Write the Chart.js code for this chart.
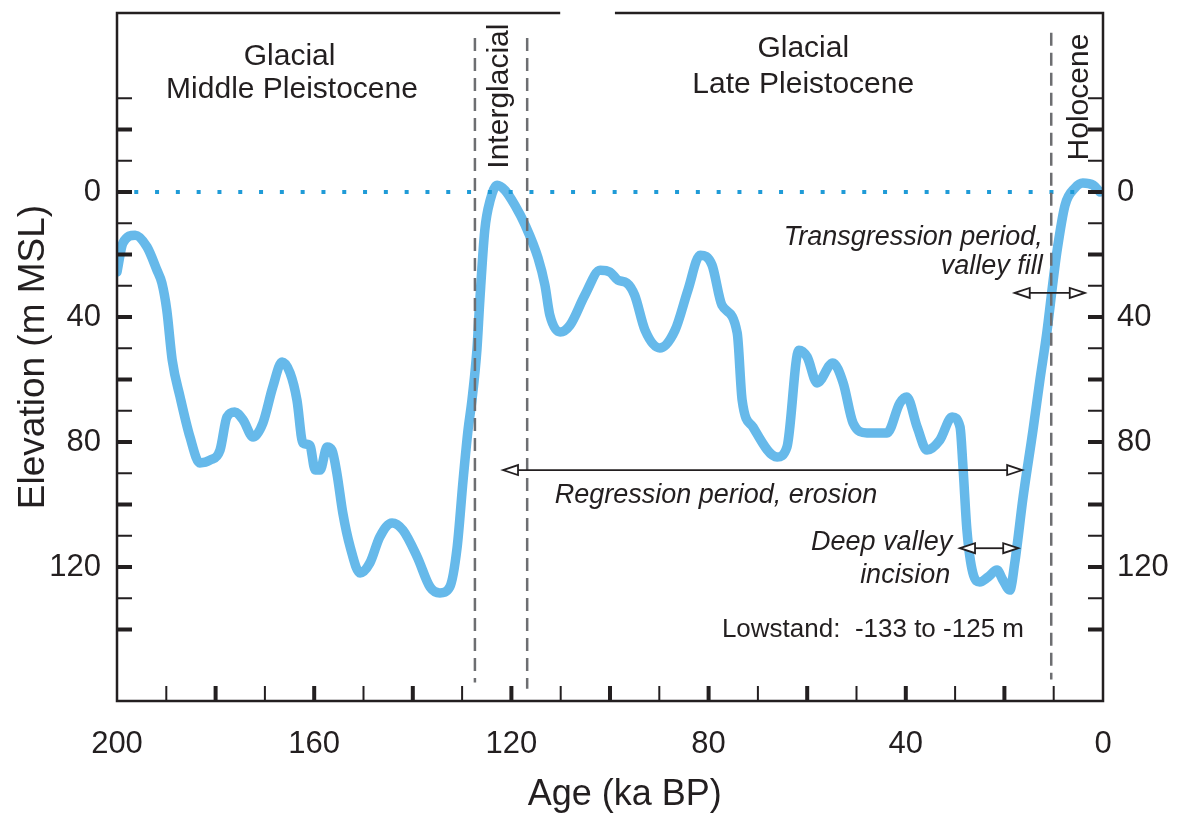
<!DOCTYPE html>
<html>
<head>
<meta charset="utf-8">
<script src="https://cdn.jsdelivr.net/npm/chart.js@4"></script>
<style>
  body { margin: 0; background: #fff; }
  canvas { display: block; }
</style>
</head>
<body>
<canvas id="seaLevel" width="1180" height="814"></canvas>
<script>
// sea level curve (age in ka BP, depth below MSL in m)
var ages = [200, 198.8, 196.3, 193.9, 191.9, 190.9, 189.9, 188.8, 187.2, 185.2, 183.2, 181.1, 179.1, 177.7, 176.1,
  174.4, 172.4, 170.4, 168.4, 166.5, 164.9, 163.5, 162.3, 160.9, 159.8, 158.8, 157.4, 156.4, 155.4, 154.2, 152.7,
  150.7, 148.7, 146.7, 144.2, 142, 139.1, 136.5, 134.5, 132.5, 131, 129.8, 128.8, 128, 127, 126.4, 125.4, 124.3,
  122.9, 121.3, 119.3, 117.2, 114.6, 113.2, 112.2, 110.1, 108.1, 105.1, 102, 100, 98.4, 96.6, 95, 92.9, 89.9, 86.8,
  84.2, 81.7, 79.3, 77.3, 74.2, 73.2, 71, 66.1, 64.1, 61.7, 60, 58, 54.8, 52.7, 50.7, 47.9, 43.8, 41.2, 39.8, 37.7,
  35.7, 33.1, 30.6, 29, 28.4, 27.6, 26.4, 25, 23.3, 21.5, 20.3, 18.9, 17.9, 16.2, 14.2, 12.8, 11.4, 10.1, 9.3, 7.7,
  5.7, 4.1, 2, 0.6];
var elevations = [25.6, 16.3, 13.8, 17.6, 25, 29.1, 37.8, 53.8, 65.6, 78.4, 86.7, 85.8, 82.6, 72, 70.4,
  73, 78.4, 73.9, 62.4, 54.4, 57.9, 66.6, 80.3, 81, 89, 89, 81.6, 82.6, 90, 102.7, 113.6,
  121.9, 118.7, 110.4, 105.9, 108.2, 116.8, 126.4, 128.3, 126.4, 113.6, 92.2, 76.2, 66.6, 50.6, 34.6, 12.2, 2.6,
  -2.2, -0.6, 4.2, 10.6, 21.1, 29.8, 39.4, 44.8, 42.6, 33, 25, 25.6, 28.2, 29.1, 33, 44.2, 49.9, 44.2,
  31.4, 20.2, 23.4, 36.2, 45.1, 66.6, 75.2, 84.8, 81.6, 50.6, 52.8, 61.1, 54.7, 61.1, 73.9, 77.1, 77.1, 67.5, 65.6, 75.2,
  82.6, 79.4, 72, 75.2, 88, 108.2, 121.9, 124.8, 123.2, 121, 124.2, 127.4, 118.7, 97.6, 76.2, 60.2, 45.1, 28.2, 18.6, 4.2,
  -1.3, -2.9, -2.2, 0];

var ageLabels = [200, 160, 120, 80, 40, 0];
var elevLabels = [0, 40, 80, 120];
var ageTickMarks = [10, 20, 30, 40, 50, 60, 70, 80, 90, 100, 110, 120, 130, 140, 150, 160, 170, 180, 190];
var elevTickMarks = [-30, -20, -10, 0, 10, 20, 30, 40, 50, 60, 70, 80, 90, 100, 110, 120, 130, 140];
var boundaryAges = [127.4, 116.8, 10.5];

var INK = '#231f20';
Chart.defaults.font.family = '"Liberation Sans", Arial, sans-serif';
Chart.defaults.color = INK;

var curve = ages.map(function (a, i) { return {x: a, y: elevations[i]}; });

var datasets = [];
// dashed period boundaries
var boundaryEnds = [[-49.3, 157], [-49.3, 159], [-51, 156]];
boundaryAges.forEach(function (a, i) {
  datasets.push({
    data: [{x: a, y: boundaryEnds[i][0]}, {x: a, y: boundaryEnds[i][1]}],
    borderColor: '#6d6e71', borderWidth: 2.5, borderDash: [13, 7], pointRadius: 0
  });
});
datasets.push({
  data: [{x: 196.5, y: 0}, {x: 1, y: 0}],
  borderColor: '#1f9bd7', borderWidth: 4, borderDash: [4, 16.8], pointRadius: 0
});
datasets.push({
  data: curve,
  borderColor: '#66b9ea', borderWidth: 9.5, pointRadius: 0,
  cubicInterpolationMode: 'monotone', borderCapStyle: 'round', borderJoinStyle: 'round'
});

function openHead(ctx, tx, ty, dir) {
  ctx.beginPath();
  ctx.moveTo(tx, ty);
  ctx.lineTo(tx + dir * 15, ty - 5);
  ctx.lineTo(tx + dir * 15, ty + 5);
  ctx.closePath();
  ctx.fillStyle = '#fff';
  ctx.fill();
  ctx.stroke();
}

function arrow(ctx, x, y, a1, a2, e) {
  var x1 = x.getPixelForValue(a1), x2 = x.getPixelForValue(a2), py = y.getPixelForValue(e);
  ctx.strokeStyle = INK;
  ctx.lineWidth = 1.8;
  ctx.beginPath();
  ctx.moveTo(x1 + 15, py);
  ctx.lineTo(x2 - 15, py);
  ctx.stroke();
  openHead(ctx, x1, py, 1);
  openHead(ctx, x2, py, -1);
}

function text(ctx, x, y, str, a, e, align, font) {
  ctx.font = font;
  ctx.textAlign = align;
  ctx.textBaseline = 'middle';
  ctx.fillStyle = INK;
  ctx.fillText(str, x.getPixelForValue(a), y.getPixelForValue(e));
}

function vtext(ctx, x, y, str, a, e, font) {
  ctx.save();
  ctx.translate(x.getPixelForValue(a), y.getPixelForValue(e));
  ctx.rotate(-Math.PI / 2);
  ctx.font = font;
  ctx.textAlign = 'center';
  ctx.textBaseline = 'middle';
  ctx.fillStyle = INK;
  ctx.fillText(str, 0, 0);
  ctx.restore();
}

var overlay = {
  id: 'overlay',
  afterDraw: function (chart) {
    var ctx = chart.ctx, a = chart.chartArea, x = chart.scales.x, y = chart.scales.y;
    ctx.save();
    ctx.strokeStyle = INK;
    ctx.lineCap = 'butt';

    // inward tick marks
    elevTickMarks.forEach(function (v) {
      var py = y.getPixelForValue(v);
      ctx.lineWidth = v % 20 === 0 ? 4 : 2;
      ctx.beginPath();
      ctx.moveTo(a.left, py); ctx.lineTo(a.left + 15, py);
      ctx.moveTo(a.right, py); ctx.lineTo(a.right - 15, py);
      ctx.stroke();
    });
    ageTickMarks.forEach(function (v) {
      var px = x.getPixelForValue(v);
      ctx.lineWidth = v % 20 === 0 ? 4 : 2;
      ctx.beginPath();
      ctx.moveTo(px, a.bottom); ctx.lineTo(px, a.bottom - 15);
      ctx.stroke();
    });

    // frame (top edge has a small gap in the original)
    ctx.lineWidth = 2.5;
    ctx.beginPath();
    ctx.moveTo(x.getPixelForValue(110.1), a.top);
    ctx.lineTo(a.left, a.top);
    ctx.lineTo(a.left, a.bottom);
    ctx.lineTo(a.right, a.bottom);
    ctx.lineTo(a.right, a.top);
    ctx.lineTo(x.getPixelForValue(99), a.top);
    ctx.stroke();

    var big = '30px "Liberation Sans", Arial, sans-serif';
    var ital = 'italic 27px "Liberation Sans", Arial, sans-serif';
    text(ctx, x, y, 'Glacial', 165, -43.2, 'center', big);
    text(ctx, x, y, 'Middle Pleistocene', 164.5, -32.6, 'center', big);
    text(ctx, x, y, 'Glacial', 60.8, -46, 'center', big);
    text(ctx, x, y, 'Late Pleistocene', 60.8, -34.2, 'center', big);
    vtext(ctx, x, y, 'Interglacial', 122.3, -30.7, big);
    vtext(ctx, x, y, 'Holocene', 4.7, -30.4, big);

    text(ctx, x, y, 'Transgression period,', 12.2, 14.4, 'right', ital);
    text(ctx, x, y, 'valley fill', 12.2, 23.7, 'right', ital);
    text(ctx, x, y, 'Regression period, erosion', 78.5, 97, 'center', ital);
    text(ctx, x, y, 'Deep valley', 30.6, 112.3, 'right', ital);
    text(ctx, x, y, 'incision', 31, 122.6, 'right', ital);
    text(ctx, x, y, 'Lowstand:  -133 to -125 m', 77.3, 140.2, 'left', '26px "Liberation Sans", Arial, sans-serif');

    arrow(ctx, x, y, 121.7, 16.4, 89);
    arrow(ctx, x, y, 17.9, 3.7, 32.3);
    arrow(ctx, x, y, 29, 17.2, 114);

    // x axis title
    ctx.font = '36px "Liberation Sans", Arial, sans-serif';
    ctx.textAlign = 'center';
    ctx.textBaseline = 'middle';
    ctx.fillStyle = INK;
    ctx.fillText('Age (ka BP)', x.getPixelForValue(97), a.bottom + 94);
    ctx.restore();
  }
};

function noPad(s) {
  s.paddingTop = 0; s.paddingBottom = 0; s.paddingLeft = 0; s.paddingRight = 0;
}

new Chart('seaLevel', {
  type: 'line',
  data: {datasets: datasets},
  plugins: [overlay],
  options: {
    responsive: false,
    animation: false,
    events: [],
    layout: {padding: {top: 13, left: 0, right: 0, bottom: 0}},
    plugins: {legend: {display: false}, tooltip: {enabled: false}},
    scales: {
      x: {
        type: 'linear', reverse: true, min: 0, max: 200,
        grid: {display: false, drawTicks: false}, border: {display: false},
        ticks: {font: {size: 31}, padding: 25, autoSkip: false, maxRotation: 0},
        afterBuildTicks: function (s) { s.ticks = ageLabels.map(function (v) { return {value: v}; }); },
        afterFit: function (s) { s.height = 113; noPad(s); }
      },
      y: {
        type: 'linear', position: 'left', reverse: true, min: -57.3, max: 162.9,
        grid: {display: false, drawTicks: false}, border: {display: false},
        ticks: {font: {size: 31}, padding: 16},
        title: {display: true, text: 'Elevation (m MSL)', font: {size: 37}, padding: {top: 12, bottom: 0}},
        afterBuildTicks: function (s) { s.ticks = elevLabels.map(function (v) { return {value: v}; }); },
        afterFit: function (s) { s.width = 117; noPad(s); }
      },
      y2: {
        type: 'linear', position: 'right', reverse: true, min: -57.3, max: 162.9,
        grid: {display: false, drawTicks: false}, border: {display: false},
        ticks: {font: {size: 31}, padding: 14},
        afterBuildTicks: function (s) { s.ticks = elevLabels.map(function (v) { return {value: v}; }); },
        afterFit: function (s) { s.width = 77; noPad(s); }
      }
    }
  }
});
</script>
</body>
</html>
